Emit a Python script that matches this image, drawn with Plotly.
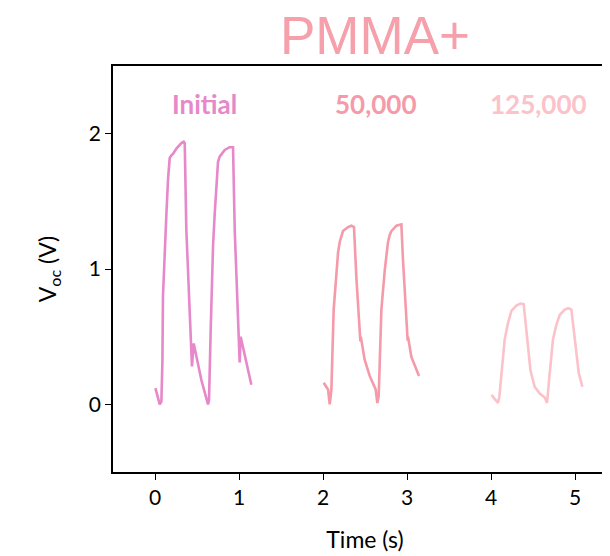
import plotly.graph_objects as go

# ---- data ----
t_initial = [0.005, 0.056, 0.076, 0.088, 0.095, 0.115, 0.136, 0.155, 0.175, 0.195, 0.214, 0.255,
             0.314, 0.342, 0.354, 0.373, 0.413, 0.44,
             0.461, 0.552, 0.631, 0.643, 0.663, 0.671, 0.691, 0.711, 0.731, 0.75, 0.77, 0.79,
             0.83, 0.889, 0.929, 0.949, 0.988, 1.008, 1.02, 1.147]
v_initial = [0.12, 0.0, 0.02, 0.31, 0.80, 1.17, 1.41, 1.66, 1.82, 1.84, 1.85, 1.89,
             1.93, 1.94, 1.93, 1.29, 0.68, 0.28,
             0.45, 0.18, 0.0, 0.03, 0.55, 0.80, 1.17, 1.41, 1.66, 1.79, 1.83, 1.85,
             1.88, 1.90, 1.90, 1.29, 0.55, 0.31, 0.50, 0.145]

t_50k = [2.008, 2.06, 2.08, 2.10, 2.127, 2.159, 2.179, 2.199, 2.219, 2.238, 2.298, 2.337, 2.369,
         2.38, 2.397, 2.417, 2.437, 2.445, 2.45, 2.496, 2.556, 2.627, 2.647, 2.663, 2.695,
         2.735, 2.755, 2.774, 2.794, 2.814, 2.874, 2.933, 2.952, 2.98, 3.004, 3.008, 3.012,
         3.052, 3.143]
v_50k = [0.16, 0.11, 0.0, 0.11, 0.70, 0.99, 1.12, 1.20, 1.24, 1.28, 1.31, 1.32, 1.31,
         1.15, 0.94, 0.74, 0.55, 0.465, 0.50, 0.33, 0.21, 0.11, 0.01, 0.06, 0.70,
         0.99, 1.12, 1.20, 1.25, 1.28, 1.32, 1.33, 1.07, 0.78, 0.55, 0.47, 0.50,
         0.35, 0.21]

t_125k = [4.005, 4.083, 4.10, 4.124, 4.163, 4.202, 4.243, 4.302, 4.35, 4.389, 4.421, 4.461, 4.47,
          4.52, 4.58, 4.64, 4.667, 4.699, 4.738, 4.779, 4.818, 4.877, 4.92, 4.957, 4.996, 5.036,
          5.045, 5.088]
v_125k = [0.07, 0.01, 0.06, 0.23, 0.48, 0.60, 0.69, 0.73, 0.745, 0.74, 0.53, 0.28, 0.25,
          0.13, 0.08, 0.05, 0.01, 0.23, 0.48, 0.59, 0.66, 0.70, 0.71, 0.70, 0.48, 0.28,
          0.23, 0.13]

series_names = ["Initial", "50,000", "125,000"]
series_colors = ["#e688c9", "#f59aa9", "#fbc2ca"]
label_x = [0.59, 2.63, 4.57]
label_y = [2.22, 2.22, 2.22]

x_ticks = [0, 1, 2, 3, 4, 5]
y_ticks = [0, 1, 2]

fig = go.Figure()
for t, v, name, col in zip([t_initial, t_50k, t_125k], [v_initial, v_50k, v_125k],
                           series_names, series_colors):
    fig.add_trace(go.Scatter(x=t, y=v, mode="lines", name=name,
                             line=dict(color=col, width=2.6), showlegend=False))

for name, col, lx, ly in zip(series_names, series_colors, label_x, label_y):
    fig.add_annotation(x=lx, y=ly, text=name, showarrow=False, xref="x", yref="y",
                       font=dict(family="Lato", size=26, color=col, weight="bold"))

fig.update_layout(
    width=610, height=556,
    margin=dict(l=105, r=1, t=58, b=92),
    paper_bgcolor="white", plot_bgcolor="white",
    title=dict(text="PMMA+", x=367 / 610, xanchor="center", y=1 - 27 / 556, yanchor="middle",
               font=dict(family="Liberation Sans", size=53, color="#f5a0ab")),
    font=dict(family="Lato", color="black"),
    xaxis=dict(range=[-0.5, 5.5], tickvals=x_ticks, ticks="outside", ticklen=6, tickwidth=1.2,
               tickcolor="black", showline=True, linecolor="black", linewidth=1.5, mirror=True,
               showgrid=False, zeroline=False, tickfont=dict(size=21, family="Lato"),
               title=dict(text="Time (s)", font=dict(size=23, family="Lato"), standoff=24)),
    yaxis=dict(range=[-0.5, 2.5], tickvals=y_ticks, ticks="outside", ticklen=6, tickwidth=1.2,
               tickcolor="black", showline=True, linecolor="black", linewidth=1.5, mirror=False,
               showgrid=False, zeroline=False, tickfont=dict(size=21, family="Lato"),
               title=dict(text="V<sub>oc</sub> (V)", font=dict(size=23, family="Lato"), standoff=26)),
)

fig.write_html("out.html")
